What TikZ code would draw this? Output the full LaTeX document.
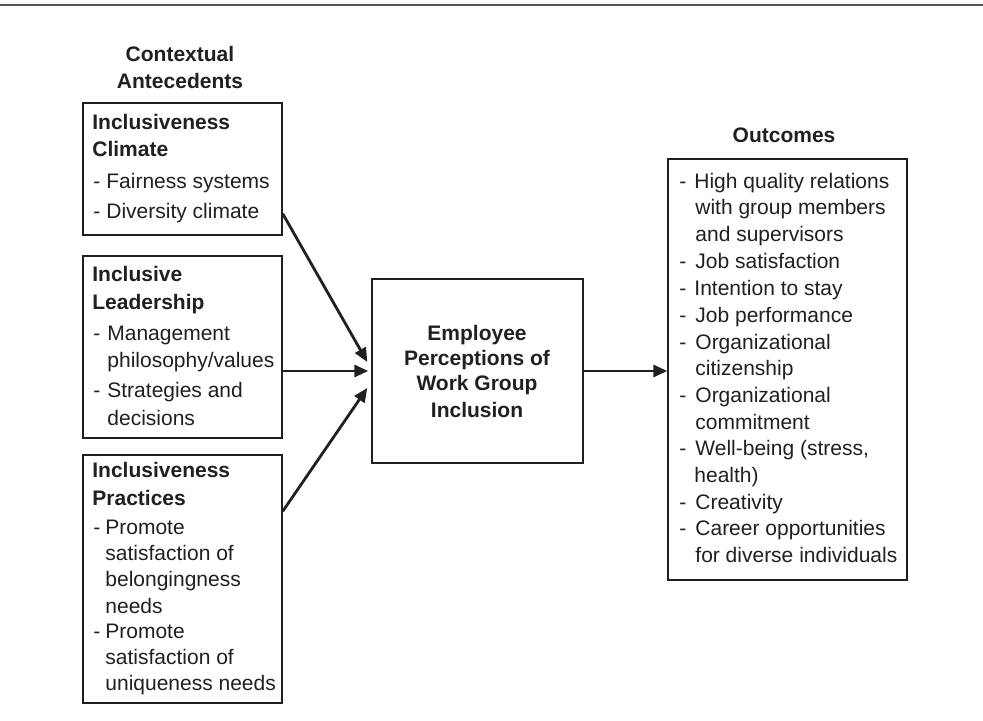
\documentclass[tikz,border=0pt]{standalone}
\usepackage{fontspec}
\setmainfont{Liberation Sans}
\usetikzlibrary{arrows.meta}
\definecolor{ink}{RGB}{35,31,32}
\definecolor{rule}{RGB}{85,85,85}
\begin{document}
\begin{tikzpicture}[x=0.5pt,y=-0.5pt,
  txt/.style={inner sep=0pt,anchor=base west,text=ink,font=\fontsize{10.5}{12.6}\selectfont},
  ttl/.style={txt,font=\fontsize{10.5}{12.6}\selectfont\bfseries},
  ctr/.style={ttl,anchor=base},
  box/.style={draw=ink,line width=0.7pt,inner sep=0pt},
  arr/.style={draw=ink,line width=1.4pt,-{Triangle[length=7pt,width=6pt]}}]
\useasboundingbox (0,0) rectangle (983,721);
\fill[white] (0,0) rectangle (983,721);
\draw[rule,line width=1.1pt] (0,5) -- (983,5);
% boxes
\node[box,minimum width=99.5pt,minimum height=66pt] (b1) at (182.5,169) {};
\node[box,minimum width=99.5pt,minimum height=91pt] (b2) at (182.5,347) {};
\node[box,minimum width=99.5pt,minimum height=124pt] (b3) at (182.5,579) {};
\node[box,minimum width=105.5pt,minimum height=92pt] (c) at (477.5,371) {};
\node[box,minimum width=119.5pt,minimum height=210.5pt] (o) at (787.5,369.5) {};
% headings
\node[ctr] (h1) at (180,62) {Contextual};
\node[ctr] (h2) at (180,89) {Antecedents};
\node[ctr] (h3) at (784,143) {Outcomes};
% box 1
\node[ttl] (a1) at (92,130) {Inclusiveness};
\node[ttl] (a2) at (92,157) {Climate};
\node[txt] (a3) at (93,189) {-};
\node[txt] (a4) at (106,189) {Fairness systems};
\node[txt] (a5) at (93,219) {-};
\node[txt] (a6) at (106,219) {Diversity climate};
% box 2
\node[ttl] (d1) at (92,282) {Inclusive};
\node[ttl] (d2) at (92,309) {Leadership};
\node[txt] (d3) at (93,340) {-};
\node[txt] (d4) at (107,340) {Management};
\node[txt] (d5) at (107,367) {philosophy/values};
\node[txt] (d6) at (93,397) {-};
\node[txt] (d7) at (107,397) {Strategies and};
\node[txt] (d8) at (107,425) {decisions};
% box 3
\node[ttl] (e1) at (92,477) {Inclusiveness};
\node[ttl] (e2) at (92,505) {Practices};
\node[txt] (e3) at (93,534) {-};
\node[txt] (e4) at (105,534) {Promote};
\node[txt] (e5) at (105,560) {satisfaction of};
\node[txt] (e6) at (105,586) {belongingness};
\node[txt] (e7) at (105,613) {needs};
\node[txt] (e8) at (93,638) {-};
\node[txt] (e9) at (105,638) {Promote};
\node[txt] (e10) at (105,664) {satisfaction of};
\node[txt] (e11) at (105,690) {uniqueness needs};
% central
\node[ctr] (c1) at (477,340) {Employee};
\node[ctr] (c2) at (477,365) {Perceptions of};
\node[ctr] (c3) at (477,390) {Work Group};
\node[ctr] (c4) at (477,417) {Inclusion};
% outcomes
\foreach \y [count=\i] in {189,269,295,322,349,402,455,509,535}
  \node[txt] (od\i) at (679,\y) {-};
\node[txt] (o1) at (694,189) {High quality relations};
\node[txt] (o2) at (695,215) {with group members};
\node[txt] (o3) at (695,242) {and supervisors};
\node[txt] (o4) at (695,269) {Job satisfaction};
\node[txt] (o5) at (694,295) {Intention to stay};
\node[txt] (o6) at (695,322) {Job performance};
\node[txt] (o7) at (695,349) {Organizational};
\node[txt] (o8) at (695,375) {citizenship};
\node[txt] (o9) at (695,402) {Organizational};
\node[txt] (o10) at (695,429) {commitment};
\node[txt] (o11) at (695,455) {Well-being (stress,};
\node[txt] (o12) at (694,482) {health)};
\node[txt] (o13) at (695,509) {Creativity};
\node[txt] (o14) at (695,535) {Career opportunities};
\node[txt] (o15) at (695,562) {for diverse individuals};
% arrows
\draw[arr] ([yshift=11pt]b1.south east) -- ([xshift=-2pt,yshift=4.5pt]c.west);
\draw[arr] (b2.east |- c.west) -- ([xshift=-1.5pt]c.west);
\draw[arr] ([yshift=-28.5pt]b3.north east) -- ([xshift=-2pt,yshift=-8.5pt]c.west);
\draw[arr] (c.east) -- (o.west |- c.east);
\end{tikzpicture}
\end{document}
